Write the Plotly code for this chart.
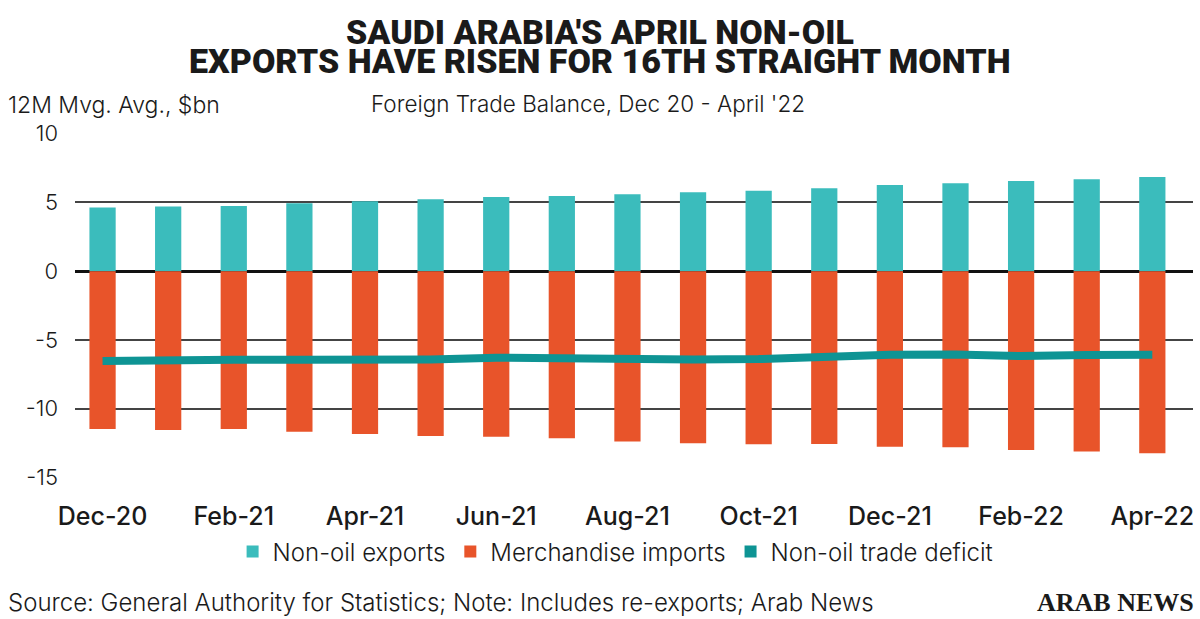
import plotly.graph_objects as go

months = ["Dec-20", "Jan-21", "Feb-21", "Mar-21", "Apr-21", "May-21", "Jun-21", "Jul-21",
          "Aug-21", "Sep-21", "Oct-21", "Nov-21", "Dec-21", "Jan-22", "Feb-22", "Mar-22", "Apr-22"]
non_oil_exports = [4.63, 4.70, 4.74, 4.94, 5.09, 5.23, 5.40, 5.47, 5.60, 5.74, 5.84, 6.03,
                   6.27, 6.40, 6.56, 6.69, 6.85]
merch_imports = [-11.48, -11.56, -11.48, -11.68, -11.85, -11.99, -12.04, -12.16, -12.40, -12.52,
                 -12.60, -12.57, -12.77, -12.81, -13.01, -13.13, -13.25]
trade_deficit = [-6.54, -6.56, -6.45, -6.45, -6.49, -6.42, -6.30, -6.37, -6.47, -6.42, -6.40,
                 -6.23, -6.08, -6.06, -6.18, -6.10, -6.08]
tick_months = months[::2]
y_ticks = [10, 5, 0, -5, -10, -15]

TEAL = "#3bbcbc"
ORANGE = "#e8542a"
DARK_TEAL = "#0e9494"
TXT = "#1a1a1a"
BODY_FONT = "Inter"

W, H = 1200, 619
pl, pr, pt, pb = 75, 7, 133, 141
pw, ph = W - pl - pr, H - pt - pb

def px(xp):
    return (xp - pl) / pw

def py(yp):
    return (H - pb - yp) / ph

fig = go.Figure()
fig.add_trace(go.Bar(x=months, y=non_oil_exports, name="Non-oil exports",
                     marker=dict(color=TEAL, line=dict(width=0)), width=0.4))
fig.add_trace(go.Bar(x=months, y=merch_imports, name="Merchandise imports",
                     marker=dict(color=ORANGE, line=dict(width=0)), width=0.4))
fig.add_trace(go.Scatter(x=months, y=trade_deficit, name="Non-oil trade deficit", mode="lines",
                         line=dict(color=DARK_TEAL, width=8), showlegend=False))
# legend swatch for the line series (square, as in the original)
fig.add_trace(go.Bar(x=[months[0]], y=[None], name="Non-oil trade deficit",
                     marker=dict(color=DARK_TEAL, line=dict(width=0)), width=0.4))

anns = [
    dict(text="SAUDI ARABIA'S APRIL NON-OIL", x=px(600), y=py(32), xanchor="center", yanchor="middle",
         font=dict(family="Roboto", size=34, color=TXT, weight=900)),
    dict(text="EXPORTS HAVE RISEN FOR 16TH STRAIGHT MONTH", x=px(600), y=py(61), xanchor="center",
         yanchor="middle", font=dict(family="Roboto", size=34, color=TXT, weight=900)),
    dict(text="12M Mvg. Avg., $bn", x=px(6), y=py(105), xanchor="left", yanchor="middle",
         font=dict(family=BODY_FONT, size=23, color=TXT, weight=300)),
    dict(text="Foreign Trade Balance, Dec 20 - April '22", x=px(588), y=py(104), xanchor="center",
         yanchor="middle", font=dict(family=BODY_FONT, size=22.5, color=TXT, weight=300)),
    dict(text="Source: General Authority for Statistics; Note: Includes re-exports; Arab News",
         x=px(6), y=py(602), xanchor="left", yanchor="middle",
         font=dict(family=BODY_FONT, size=24, color=TXT, weight=300)),
    dict(text="ARAB NEWS", x=px(1196), y=py(602), xanchor="right", yanchor="middle",
         font=dict(family="Liberation Serif", size=26, color=TXT, weight=700)),
]
for a in anns:
    a.update(xref="paper", yref="paper", showarrow=False)

fig.update_layout(
    width=W, height=H,
    barmode="relative",
    plot_bgcolor="white", paper_bgcolor="white",
    margin=dict(l=pl, r=pr, t=pt, b=pb, autoexpand=False),
    font=dict(family=BODY_FONT, color=TXT, size=20),
    showlegend=True,
    legend=dict(orientation="h", x=0.513, xanchor="center", xref="container",
                y=1 - 552 / H, yanchor="middle", yref="container",
                font=dict(family=BODY_FONT, size=24, color=TXT, weight=300),
                traceorder="normal", itemwidth=30, bgcolor="rgba(0,0,0,0)"),
    xaxis=dict(
        type="category", range=[-0.42, 16.62], automargin=False,
        tickmode="array", tickvals=tick_months, ticktext=tick_months,
        showgrid=False, zeroline=False, showline=False, ticks="",
        tickfont=dict(family=BODY_FONT, size=25, color=TXT, weight=500),
        ticklabelstandoff=21,
    ),
    yaxis=dict(
        range=[-15.05, 10.05], automargin=False,
        tickmode="array", tickvals=y_ticks, ticktext=[str(v) for v in y_ticks],
        showgrid=True, gridcolor="#444444", gridwidth=1.6,
        zeroline=True, zerolinecolor="#111111", zerolinewidth=3,
        showline=False, ticks="",
        tickfont=dict(family=BODY_FONT, size=22, color=TXT, weight=300),
        ticklabelstandoff=16,
    ),
    annotations=anns,
)

fig.write_html("out.html", config={"displayModeBar": False},
               post_script="document.body.style.margin='0';document.body.style.padding='0';")
